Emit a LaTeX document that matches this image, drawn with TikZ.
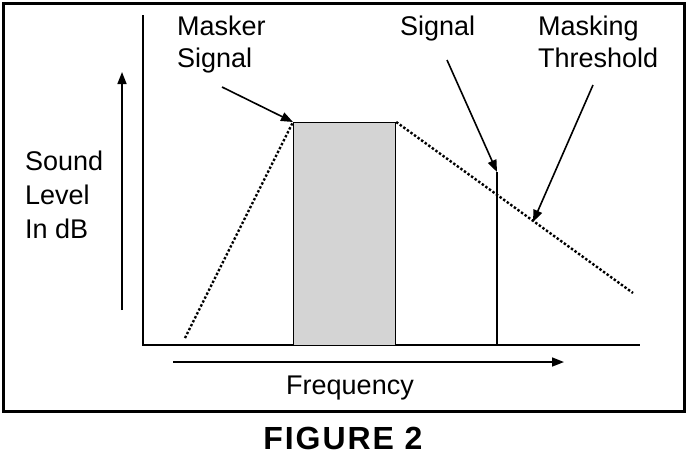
\documentclass[tikz,border=0pt]{standalone}
\usepackage{fontspec}
\setmainfont{Liberation Sans}
\usetikzlibrary{arrows.meta}
\begin{document}
\begin{tikzpicture}[x=1pt,y=-1pt,
  lbl/.style={font=\fontsize{27}{32}\selectfont,align=left,anchor=west,inner sep=0},
  ar/.style={line width=1.6pt,-{Triangle[length=12pt,width=9pt]}},
  dot/.style={line width=2.4pt,dotted}]
\useasboundingbox (0,0) rectangle (687,456);
\draw[line width=3pt] (3,3) rectangle (684,411);
\coordinate (yt) at (143,15); \coordinate (o) at (143,345); \coordinate (xr) at (640,345);
\draw[line width=1.2pt] (yt) -- (o) -- (xr);
\node[draw,line width=1.2pt,fill=black!17,minimum width=102,minimum height=223,inner sep=0,anchor=north west] (m) at (293,122) {};
\coordinate (s0) at (497,172); \coordinate (s1) at (497,345);
\draw[line width=1.2pt] (s0) -- (s1);
\coordinate (dl) at (185,338); \coordinate (dr) at (633,293);
\draw[dot] (dl) -- (m.north west);
\draw[dot] (m.north east) -- (dr);
\coordinate (ua) at (122,310); \coordinate (ub) at (122,72);
\draw[ar] (ua) -- (ub);
\coordinate (ra) at (173,362); \coordinate (rb) at (564,362);
\draw[ar] (ra) -- (rb);
\node[lbl,anchor=north west] (t1) at (177,16) {Masker\\Signal};
\node[lbl,anchor=north west] (t2) at (400,16) {Signal};
\node[lbl,anchor=north west] (t3) at (538,16) {Masking\\Threshold};
\node[lbl,anchor=north west,font=\fontsize{27}{34}\selectfont] (t4) at (25,151) {Sound\\Level\\In dB};
\node[font=\fontsize{27}{32}\selectfont,inner sep=0] (t5) at (350,388) {Frequency};
\coordinate (a1) at (222,87); \coordinate (a2) at (447,60); \coordinate (a3) at (593,85);
\draw[ar] (a1) -- (m.north west);
\draw[ar] (a2) -- (s0);
\draw[ar] (a3) -- (533,222);
\node[font=\fontsize{32}{36}\selectfont\bfseries,inner sep=0] (ti) at (343,438) {\addfontfeature{LetterSpace=6}FIGURE 2};
\end{tikzpicture}
\end{document}
